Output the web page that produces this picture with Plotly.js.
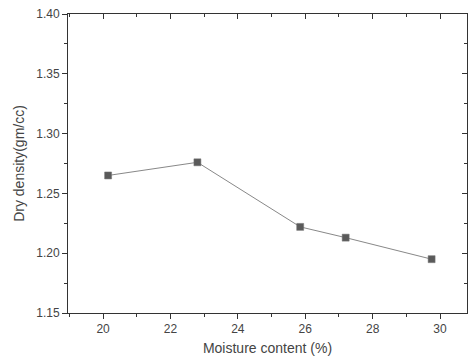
<!DOCTYPE html>
<html><head><meta charset="utf-8">
<script src="https://cdn.plot.ly/plotly-3.0.1.min.js"></script>
<style>html,body{margin:0;padding:0;background:#fff}#c{width:469px;height:356px}</style>
</head><body><div id="c"></div>
<script>
const moisture = [20.15, 22.8, 25.85, 27.2, 29.75];
const dryDensity = [1.265, 1.276, 1.222, 1.213, 1.195];
const xTicks = [20, 22, 24, 26, 28, 30];
const yTicks = [1.15, 1.20, 1.25, 1.30, 1.35, 1.40];

const xr = [18.96, 30.8], yr = [1.15, 1.40];
const fam = 'Liberation Sans, Arial, sans-serif';
const axisFont = {family: fam, size: 12, color: '#444'};
const titleFont = {family: fam, size: 14, color: '#444'};
const lineCol = '#333';

const data = [
  {x: moisture, y: dryDensity, type: 'scatter', mode: 'lines+markers',
   line: {color: '#888', width: 1},
   marker: {symbol: 'square', size: 7, color: '#5a5a5a', line: {color: '#777', width: 0.5}},
   hoverinfo: 'skip', showlegend: false},
  {x: xr, y: yr, xaxis: 'x2', yaxis: 'y2', mode: 'markers', marker: {opacity: 0}, showlegend: false, hoverinfo: 'skip'}
];

const layout = {
  width: 469, height: 356,
  margin: {l: 68, r: 2, t: 14, b: 43},
  paper_bgcolor: '#fff', plot_bgcolor: '#fff',
  font: axisFont,
  xaxis: {range: xr, tickvals: xTicks, ticktext: xTicks.map(String), ticks: 'outside', ticklen: 5, tickwidth: 1, tickcolor: lineCol,
    tickfont: axisFont,
    minor: {dtick: 1, tick0: 19, ticks: 'outside', ticklen: 3, tickcolor: lineCol},
    showline: true, linecolor: lineCol, linewidth: 1, showgrid: false, zeroline: false,
    title: {text: 'Moisture content (%)', font: titleFont, standoff: 8}},
  yaxis: {range: yr, tickvals: yTicks, ticktext: yTicks.map(v => v.toFixed(2)), ticks: 'outside', ticklen: 5, tickwidth: 1, tickcolor: lineCol,
    tickfont: axisFont,
    minor: {dtick: 0.025, tick0: 1.15, ticks: 'outside', ticklen: 3, tickcolor: lineCol},
    showline: true, linecolor: lineCol, linewidth: 1, showgrid: false, zeroline: false,
    title: {text: 'Dry density(gm/cc)', font: titleFont, standoff: 8}},
  xaxis2: {range: xr, overlaying: 'x', side: 'top', tickvals: xTicks, ticks: 'inside', ticklen: 5, tickcolor: lineCol, showticklabels: false,
    minor: {dtick: 1, tick0: 19, ticks: 'inside', ticklen: 3, tickcolor: lineCol},
    showline: true, linecolor: lineCol, linewidth: 1, showgrid: false, zeroline: false},
  yaxis2: {range: yr, overlaying: 'y', side: 'right', tickvals: yTicks, ticks: 'inside', ticklen: 5, tickcolor: lineCol, showticklabels: false,
    minor: {dtick: 0.025, tick0: 1.15, ticks: 'inside', ticklen: 3, tickcolor: lineCol},
    showline: true, linecolor: lineCol, linewidth: 1, showgrid: false, zeroline: false}
};
Plotly.newPlot('c', data, layout, {staticPlot: true});
</script></body></html>
